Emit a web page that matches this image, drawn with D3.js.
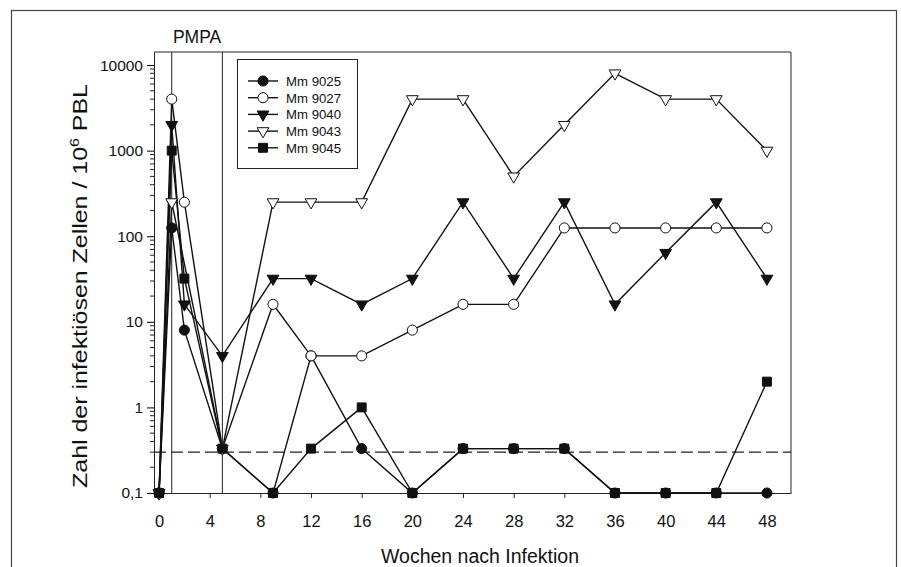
<!DOCTYPE html>
<html>
<head>
<meta charset="utf-8">
<script src="https://cdn.jsdelivr.net/npm/d3@7"></script>
<style>
body { margin: 0; background: #fff; }
svg { font-family: "Liberation Sans", Arial, sans-serif; }
</style>
</head>
<body>
<svg width="901" height="567"></svg>
<script>
var weeks = [0, 1, 2, 5, 9, 12, 16, 20, 24, 28, 32, 36, 40, 44, 48];
var mm9025 = [0.1, 125, 8, 0.33, 0.1, 4, 0.33, 0.1, 0.33, 0.33, 0.33, 0.1, 0.1, 0.1, 0.1];
var mm9027 = [0.1, 4000, 250, 0.33, 16, 4, 4, 8, 16, 16, 125, 125, 125, 125, 125];
var mm9040 = [0.1, 2000, 16, 4, 32, 32, 16, 32, 250, 32, 250, 16, 64, 250, 32];
var mm9043 = [0.1, 250, null, 0.33, 250, 250, 250, 4000, 4000, 500, 2000, 8000, 4000, 4000, 1000];
var mm9045 = [0.1, 1000, 32, 0.33, 0.1, 0.33, 1, 0.1, 0.33, 0.33, 0.33, 0.1, 0.1, 0.1, 2];
var seriesNames = ["Mm 9025", "Mm 9027", "Mm 9040", "Mm 9043", "Mm 9045"];
var seriesMarkers = ["circle", "circle", "triangle", "triangle", "square"];
var seriesFilled = [true, false, true, false, true];
var xTicks = [0, 4, 8, 12, 16, 20, 24, 28, 32, 36, 40, 44, 48];
var yTicks = [0.1, 1, 10, 100, 1000, 10000];
var yTickLabels = ["0,1", "1", "10", "100", "1000", "10000"];
var pmpaWeeks = [1, 5];
var detectionLimit = 0.3;

var allSeries = [mm9025, mm9027, mm9040, mm9043, mm9045];

var svg = d3.select('svg');

var xScale = d3.scaleLinear().domain([-0.4, 49.9]).range([154, 791]);
var yScale = d3.scaleLog().domain([0.1, 14200]).range([493, 52]);

// outer frame
svg.append('rect')
.attr('x', 11.5).attr('y', 10.5)
.attr('width', 885).attr('height', 570)
.attr('fill', 'none').attr('stroke', '#444').attr('stroke-width', 1.2);

// plot box (top and right)
svg.append('path')
.attr('d', 'M' + xScale.range()[0] + ',' + yScale.range()[1] + 'H' + xScale.range()[1] + 'V' + yScale.range()[0])
.attr('fill', 'none').attr('stroke', '#222').attr('stroke-width', 1);

// axes
var xaxis = d3.axisBottom(xScale).tickValues(xTicks).tickSize(5).tickPadding(17).tickSizeOuter(0);
var gx = svg.append('g')
.attr('transform', 'translate(0,' + yScale.range()[0] + ')')
.call(xaxis);
gx.select('.domain').attr('stroke', '#222');
gx.selectAll('line').attr('stroke', '#222');
gx.selectAll('text').attr('font-size', 16.5).attr('fill', '#111').attr('font-family', 'Liberation Sans, Arial, sans-serif');

var yaxis = d3.axisLeft(yScale).tickValues(yTicks)
.tickFormat(function(d, i) { return yTickLabels[i]; })
.tickSize(7).tickPadding(4).tickSizeOuter(0);
var gy = svg.append('g')
.attr('transform', 'translate(' + xScale.range()[0] + ',0)')
.call(yaxis);
gy.select('.domain').attr('stroke', '#222');
gy.selectAll('text').attr('font-size', 15.5).attr('fill', '#111').attr('font-family', 'Liberation Sans, Arial, sans-serif');

// minor log ticks
var minor = [];
for (var e = -1; e < 5; e++) {
  for (var m = 2; m <= 9; m++) {
    var v = m * Math.pow(10, e);
    if (v <= yScale.domain()[1]) minor.push(v);
  }
}
gy.selectAll('.minor').data(minor).enter().append('line')
.attr('class', 'minor')
.attr('x1', 0).attr('x2', -4)
.attr('y1', function(d) { return yScale(d); })
.attr('y2', function(d) { return yScale(d); })
.attr('stroke', '#222');

// PMPA lines
svg.selectAll('.pmpa').data(pmpaWeeks).enter().append('line')
.attr('class', 'pmpa')
.attr('x1', function(d) { return xScale(d); })
.attr('x2', function(d) { return xScale(d); })
.attr('y1', yScale.range()[1]).attr('y2', yScale.range()[0])
.attr('stroke', '#222').attr('stroke-width', 1);

svg.append('text')
.attr('x', (xScale(pmpaWeeks[0]) + xScale(pmpaWeeks[1])) / 2)
.attr('y', 43)
.attr('text-anchor', 'middle')
.attr('font-size', 17.5)
.attr('fill', '#111')
.text('PMPA');

// detection limit
svg.append('line')
.attr('x1', xScale.range()[0]).attr('x2', xScale.range()[1])
.attr('y1', yScale(detectionLimit)).attr('y2', yScale(detectionLimit))
.attr('stroke', '#222').attr('stroke-width', 1.3)
.attr('stroke-dasharray', '12,5');

// series lines
var line = d3.line()
.x(function(d) { return xScale(d.w); })
.y(function(d) { return yScale(d.v); });

function pts(vals) {
  return weeks.map(function(w, i) { return {w: w, v: vals[i]}; })
  .filter(function(d) { return d.v != null; });
}

allSeries.forEach(function(vals) {
  svg.append('path')
  .datum(pts(vals))
  .attr('d', line)
  .attr('fill', 'none')
  .attr('stroke', '#111')
  .attr('stroke-width', 1.4);
});

function markerPath(type) {
  if (type == 'circle') return d3.symbol(d3.symbolCircle, 80)();
  if (type == 'square') return d3.symbol(d3.symbolSquare, 80)();
  return d3.symbol(d3.symbolTriangle, 60)();
}

function drawMarker(g, type, filled, x, y) {
  g.append('path')
  .attr('d', markerPath(type))
  .attr('transform', 'translate(' + x + ',' + y + ')' + (type == 'triangle' ? ' rotate(180)' : ''))
  .attr('fill', filled ? '#111' : '#fff')
  .attr('stroke', '#111')
  .attr('stroke-width', 1);
}

allSeries.forEach(function(vals, s) {
  var g = svg.append('g');
  pts(vals).forEach(function(d) {
    drawMarker(g, seriesMarkers[s], seriesFilled[s], xScale(d.w), yScale(d.v));
  });
});

// legend
var legend = svg.append('g');
legend.append('rect')
.attr('x', 237.5).attr('y', 59.5).attr('width', 120).attr('height', 109)
.attr('fill', '#fff').attr('stroke', '#222').attr('stroke-width', 1);
seriesNames.forEach(function(name, i) {
  var ly = 81 + i * 16.7;
  legend.append('line')
  .attr('x1', 248).attr('x2', 278).attr('y1', ly).attr('y2', ly)
  .attr('stroke', '#111').attr('stroke-width', 1.4);
  drawMarker(legend, seriesMarkers[i], seriesFilled[i], 263, ly);
  legend.append('text')
  .attr('x', 286).attr('y', ly + 4.8)
  .attr('font-size', 13.2)
  .attr('fill', '#111')
  .text(name);
});

// axis titles
svg.append('text')
.attr('x', 480).attr('y', 563)
.attr('text-anchor', 'middle')
.attr('font-size', 19.5)
.attr('fill', '#111')
.text('Wochen nach Infektion');

var yt = svg.append('text')
.attr('transform', 'translate(87,286) rotate(-90) scale(1.28,1)')
.attr('text-anchor', 'middle')
.attr('font-size', 19.5)
.attr('fill', '#111');
yt.append('tspan').text('Zahl der infektiösen Zellen / 10');
yt.append('tspan').attr('dy', -8).attr('font-size', 12.5).text('6');
yt.append('tspan').attr('dy', 8).text(' PBL');
</script>
</body>
</html>
